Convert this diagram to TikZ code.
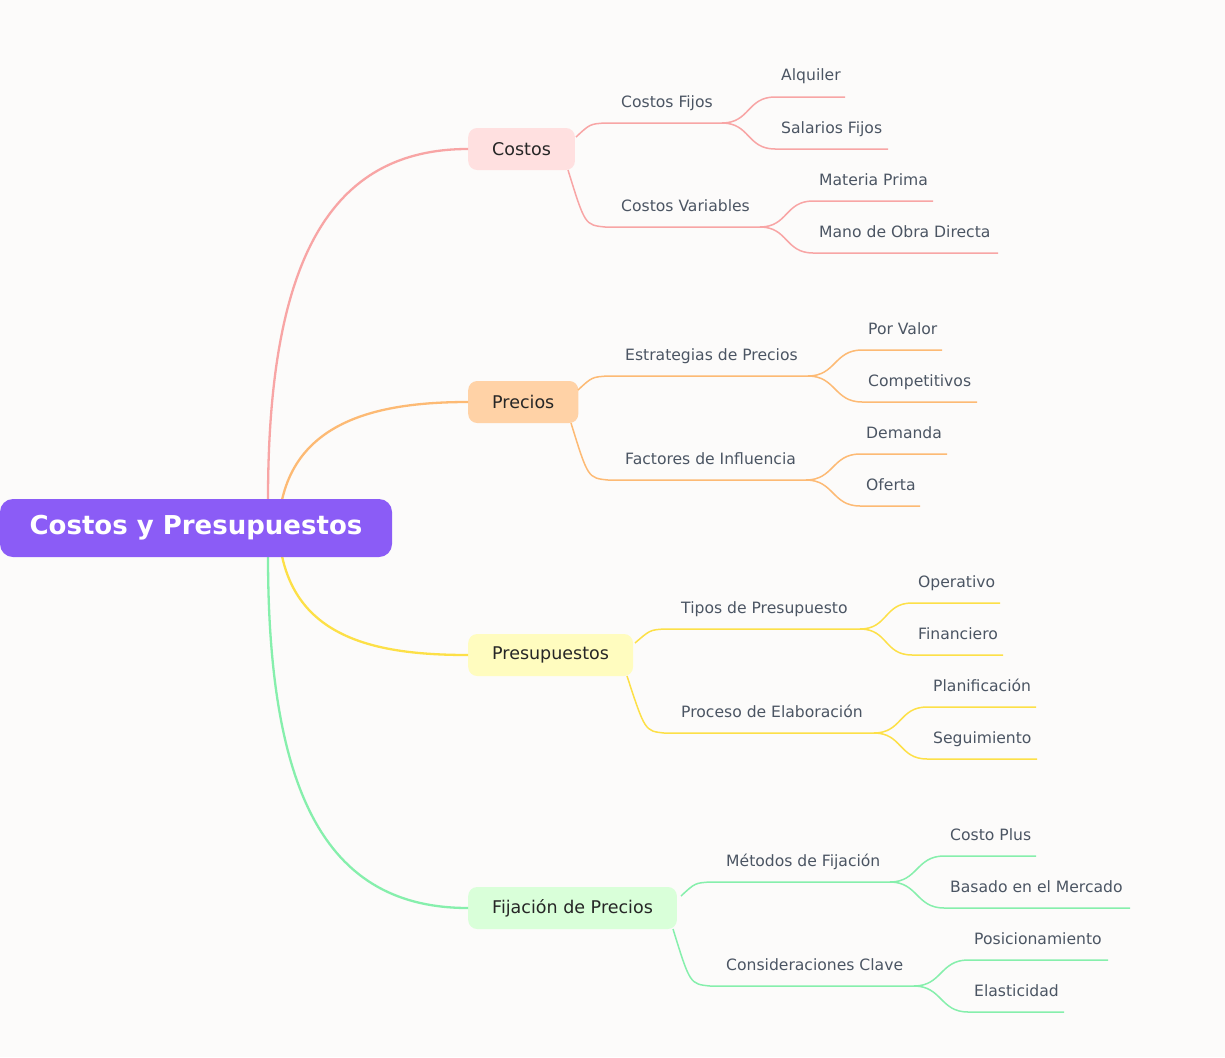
\documentclass[tikz,border=0pt]{standalone}
\usepackage{fontspec}
\setmainfont{DejaVu Sans}
\usetikzlibrary{positioning}
\definecolor{bg}{HTML}{FCFBFA}
\definecolor{rootc}{HTML}{8B5CF6}
\definecolor{pinkc}{HTML}{F8A5A5}
\definecolor{orangec}{HTML}{FDBA74}
\definecolor{yellowc}{HTML}{FDE047}
\definecolor{greenc}{HTML}{86EFAC}
\definecolor{labelc}{HTML}{4B5563}
\tikzset{
  wire/.style={line width=1.5pt},
  mainwire/.style={line width=2.3pt},
  catbox/.style={rounded corners=9pt, anchor=west, minimum height=42pt, inner xsep=24pt,
    font=\fontsize{17.5}{20}\selectfont, text=black!85},
  lbl/.style={anchor=base west, inner sep=0pt, text=labelc, font=\fontsize{15.6}{18}\selectfont}
}
% #1 colour, #2 parent, #3 name, #4 curve end x, #5 y, #6 end x, #7 text
\newcommand{\leaf}[7]{%
  \draw[#1, wire] (#2) .. controls +(28,0) and +(-28,0) .. (#4,#5) coordinate (#3a) -- (#6,#5) coordinate (#3);
  \node[lbl] (#3l) at (#4+6,#5-16) {#7};
}
\begin{document}
\begin{tikzpicture}[x=1pt,y=-1pt]
  \fill[bg] (0,0) rectangle (1225,1057);
  \useasboundingbox (0,0) rectangle (1225,1057);

  % category boxes
  \node[catbox, fill=red!12] (cost) at (468,149) {Costos};
  \node[catbox, fill=orange!35] (prec) at (468,402) {Precios};
  \node[catbox, fill=yellow!25] (pres) at (468,655) {Presupuestos};
  \node[catbox, fill=green!15] (fija) at (468,908) {Fijación de Precios};

  % main branches
  \coordinate (r1) at (268,500);
  \coordinate (r2) at (282,500);
  \coordinate (r3) at (282,556);
  \coordinate (r4) at (268,556);
  \draw[pinkc, mainwire] (r1) .. controls (268,260) and (330,149) .. (cost.west);
  \draw[orangec, mainwire] (r2) .. controls (300,420) and (380,402) .. (prec.west);
  \draw[yellowc, mainwire] (r3) .. controls (300,640) and (380,655) .. (pres.west);
  \draw[greenc, mainwire] (r4) .. controls (268,800) and (330,908) .. (fija.west);

  \node[fill=rootc, text=white, rounded corners=13pt, minimum width=392pt, minimum height=58pt,
    font=\fontsize{26}{30}\selectfont\bfseries] (root) at (196,528) {Costos y Presupuestos};

  % Costos
  \coordinate (c1s) at (576,137);
  \coordinate (c2s) at (568,170);
  \draw[pinkc, wire] (c1s) .. controls (590,124) .. (605,123) -- (722,123) coordinate (c1);
  \draw[pinkc, wire] (c2s) .. controls (585,225) .. (605,227) -- (760,227) coordinate (c2);
  \node[lbl] (c1l) at (621,107) {Costos Fijos};
  \node[lbl] (c2l) at (621,211) {Costos Variables};
  \leaf{pinkc}{c1}{c11}{775}{97}{845}{Alquiler}
  \leaf{pinkc}{c1}{c12}{775}{149}{888}{Salarios Fijos}
  \leaf{pinkc}{c2}{c21}{813}{201}{933}{Materia Prima}
  \leaf{pinkc}{c2}{c22}{813}{253}{998}{Mano de Obra Directa}

  % Precios
  \coordinate (p1s) at (578,390);
  \coordinate (p2s) at (571,423);
  \draw[orangec, wire] (p1s) .. controls (592,377) .. (608,376) -- (808,376) coordinate (p1);
  \draw[orangec, wire] (p2s) .. controls (588,478) .. (608,480) -- (806,480) coordinate (p2);
  \node[lbl] (p1l) at (625,360) {Estrategias de Precios};
  \node[lbl] (p2l) at (625,464) {Factores de Influencia};
  \leaf{orangec}{p1}{p11}{862}{350}{942}{Por Valor}
  \leaf{orangec}{p1}{p12}{862}{402}{977}{Competitivos}
  \leaf{orangec}{p2}{p21}{860}{454}{947}{Demanda}
  \leaf{orangec}{p2}{p22}{860}{506}{920}{Oferta}

  % Presupuestos
  \coordinate (b1s) at (635,643);
  \coordinate (b2s) at (627,676);
  \draw[yellowc, wire] (b1s) .. controls (650,630) .. (664,629) -- (860,629) coordinate (b1);
  \draw[yellowc, wire] (b2s) .. controls (645,731) .. (664,733) -- (874,733) coordinate (b2);
  \node[lbl] (b1l) at (681,613) {Tipos de Presupuesto};
  \node[lbl] (b2l) at (681,717) {Proceso de Elaboración};
  \leaf{yellowc}{b1}{b11}{912}{603}{1000}{Operativo}
  \leaf{yellowc}{b1}{b12}{912}{655}{1003}{Financiero}
  \leaf{yellowc}{b2}{b21}{927}{707}{1036}{Planificación}
  \leaf{yellowc}{b2}{b22}{927}{759}{1037}{Seguimiento}

  % Fijación de Precios
  \coordinate (f1s) at (681,896);
  \coordinate (f2s) at (673,929);
  \draw[greenc, wire] (f1s) .. controls (695,883) .. (710,882) -- (890,882) coordinate (f1);
  \draw[greenc, wire] (f2s) .. controls (690,984) .. (710,986) -- (914,986) coordinate (f2);
  \node[lbl] (f1l) at (726,866) {Métodos de Fijación};
  \node[lbl] (f2l) at (726,970) {Consideraciones Clave};
  \leaf{greenc}{f1}{f11}{944}{856}{1036}{Costo Plus}
  \leaf{greenc}{f1}{f12}{944}{908}{1130}{Basado en el Mercado}
  \leaf{greenc}{f2}{f21}{968}{960}{1108}{Posicionamiento}
  \leaf{greenc}{f2}{f22}{968}{1012}{1064}{Elasticidad}
\end{tikzpicture}
\end{document}
